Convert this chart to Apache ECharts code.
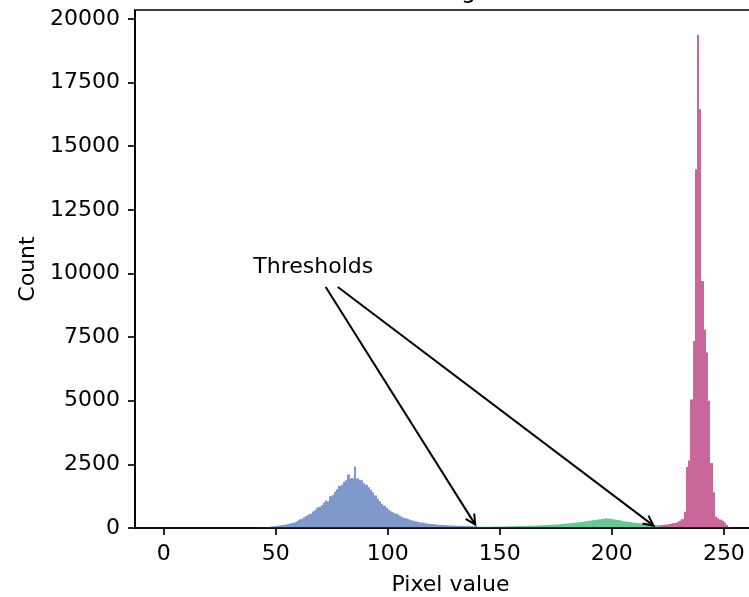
<!DOCTYPE html>
<html>
<head>
<meta charset="utf-8">
<script src="https://cdn.jsdelivr.net/npm/echarts@6/dist/echarts.min.js"></script>
<style>
html, body {margin: 0; padding: 0; background: #fff;}
#chart {width: 749px; height: 597px;}
</style>
</head>
<body>
<div id="chart"></div>
<script>
// one bin per pixel value 0..255
const counts = [
    0, 0, 0, 0, 0, 0, 0, 0, 0, 0, 0, 0, 0, 0, 0, 0, 0, 0, 0, 0,
    0, 0, 0, 0, 0, 0, 0, 0, 0, 0, 0, 0, 0, 0, 0, 0, 0, 0, 0, 0,
    0, 0, 0, 10, 20, 30, 40, 50, 60, 70,
    85, 95, 110, 125, 140, 160, 175, 200, 230, 270,
    320, 360, 420, 470, 520, 560, 650, 700, 800, 830,
    900, 1000, 1080, 1050, 1250, 1300, 1420, 1520, 1650, 1700,
    1820, 1880, 2100, 1950, 1950, 2420, 1950, 1900, 1880, 1760,
    1700, 1600, 1500, 1400, 1280, 1150, 1050, 950, 880, 800,
    720, 660, 620, 570, 540, 480, 440, 400, 370, 340,
    310, 290, 270, 250, 230, 210, 195, 180, 170, 160,
    150, 140, 130, 125, 120, 115, 110, 105, 100, 95,
    92, 90, 88, 85, 82, 80, 78, 75, 72, 70,
    50, 50, 48, 50, 52, 50, 52, 55, 55, 58,
    60, 60, 62, 65, 65, 68, 70, 72, 75, 78,
    80, 82, 85, 88, 92, 95, 98, 100, 105, 110,
    115, 120, 125, 130, 135, 142, 150, 158, 165, 172,
    180, 190, 200, 210, 218, 228, 240, 250, 262, 275,
    290, 302, 315, 328, 340, 352, 365, 380, 370, 360,
    345, 330, 315, 300, 285, 270, 255, 242, 230, 215,
    205, 195, 185, 175, 165, 160, 150, 140, 130, 120,
    110, 110, 120, 130, 140, 150, 170, 190, 210, 250,
    280, 350, 640, 2400, 2650, 5050, 7350, 14100, 19370, 16450,
    9700, 7800, 6900, 5000, 2550, 1400, 450, 380, 330, 280,
    220, 120, 30, 0, 0, 0
];
const thresholds = [140, 220];
const classColors = ['#7f99cd', '#68c793', '#c9669a'];
const xTicks = [0, 50, 100, 150, 200, 250];
const yTicks = [0, 2500, 5000, 7500, 10000, 12500, 15000, 17500, 20000];
const annotText = 'Thresholds';
const annotAt = [40, 10000];
const arrowFrom = [[72.3, 9470], [77.7, 9470]];

const font = '"DejaVu Sans", sans-serif';
const binData = counts.map((c, i) => [i, c, i < thresholds[0] ? 0 : (i <= thresholds[1] ? 1 : 2)]);
const chart = echarts.init(document.getElementById('chart'), null, {renderer: 'canvas'});

function renderBin(params, api) {
    const i = api.value(0);
    const c = api.value(1);

    if (!c)
        return null;
    const p0 = api.coord([i, 0]);
    const p1 = api.coord([i + 1, c]);
    const x0 = Math.round(p0[0]);

    return {
        type: 'rect',
        shape: {x: x0, y: p1[1], width: Math.round(p1[0]) - x0, height: p0[1] - p1[1]},
        style: {fill: classColors[api.value(2)]}
    };
}

function renderAnnot(params, api) {
    const children = [];
    const tp = api.coord(annotAt);

    children.push({
        type: 'text', x: tp[0], y: tp[1] + 5,
        style: {text: annotText, fill: '#000', font: '22px ' + font, align: 'left', verticalAlign: 'bottom'}
    });
    arrowFrom.forEach((s, k) => {
        const a = api.coord(s);
        const t = api.coord([thresholds[k], 0]);
        const dx = t[0] - a[0], dy = t[1] - a[1];
        const len = Math.hypot(dx, dy);
        const ux = dx / len, uy = dy / len;
        const b = [t[0] - ux * 4, t[1] - uy * 4];
        const hl = 10, hw = 5;
        const base = [b[0] - ux * hl, b[1] - uy * hl];

        children.push({
            type: 'line',
            shape: {x1: a[0], y1: a[1], x2: b[0], y2: b[1]},
            style: {stroke: '#000', lineWidth: 2}
        });
        children.push({
            type: 'polyline',
            shape: {points: [[base[0] - uy * hw, base[1] + ux * hw], b, [base[0] + uy * hw, base[1] - ux * hw]]},
            style: {stroke: '#000', lineWidth: 2, fill: null}
        });
    });
    return {type: 'group', children: children};
}

chart.setOption({
    animation: false,
    backgroundColor: '#fff',
    graphic: [{
        type: 'text', x: 462, y: 4, z: 100,
        style: {text: 'Histogram', fill: '#000', font: '24px ' + font, align: 'center', verticalAlign: 'bottom'}
    }],
    grid: {
        left: 135, top: 10, width: 631, height: 518,
        outerBoundsMode: 'none', containLabel: false,
        show: true, borderColor: '#000', borderWidth: 1.7, backgroundColor: 'transparent'
    },
    xAxis: {
        type: 'value', min: -12.8, max: 268.8, z: 10,
        name: 'Pixel value', nameLocation: 'middle', nameGap: 46,
        nameTextStyle: {fontFamily: font, fontSize: 22, color: '#000'},
        axisLine: {onZero: false, lineStyle: {color: '#000', width: 1.7}},
        axisTick: {show: true, length: 7, customValues: xTicks, lineStyle: {color: '#000', width: 1.7}},
        axisLabel: {customValues: xTicks, margin: 15, fontFamily: font, fontSize: 22, color: '#000',
            formatter: v => String(v)},
        splitLine: {show: false}
    },
    yAxis: {
        type: 'value', min: 0, max: 20353, z: 10,
        name: 'Count', nameLocation: 'middle', nameGap: 96, nameRotate: 90,
        nameTextStyle: {fontFamily: font, fontSize: 22, color: '#000'},
        axisLine: {show: true, onZero: false, lineStyle: {color: '#000', width: 1.7}},
        axisTick: {show: true, length: 7, customValues: yTicks, lineStyle: {color: '#000', width: 1.7}},
        axisLabel: {customValues: yTicks, margin: 15, fontFamily: font, fontSize: 22, color: '#000',
            formatter: v => String(v)},
        splitLine: {show: false}
    },
    series: [{
        type: 'custom',
        renderItem: renderBin,
        encode: {x: 0, y: 1},
        data: binData,
        silent: true
    }, {
        type: 'custom',
        renderItem: renderAnnot,
        clip: false,
        silent: true,
        z: 5,
        encode: {x: 0, y: 1},
        data: [annotAt]
    }]
});
</script>
</body>
</html>
